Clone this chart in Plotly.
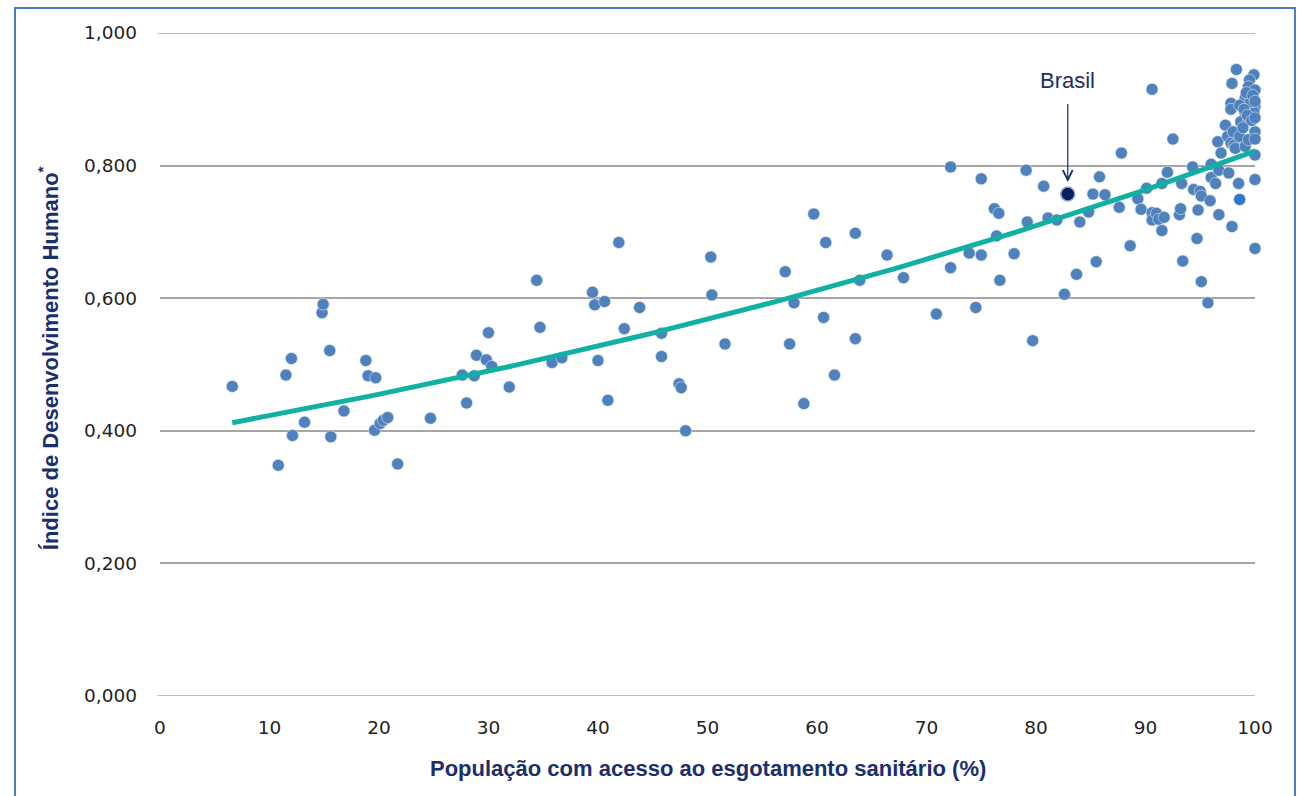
import numpy as np
import plotly.graph_objects as go

# Acesso ao esgotamento sanitário (%) x IDH, por país
sanitation = [
    6.6, 10.8, 11.5, 12.0, 12.1, 13.2, 14.8, 14.9, 15.5, 15.6, 16.8, 18.8, 19.0, 19.6, 19.7, 20.1, 20.4, 20.8, 21.7,
    24.7, 27.6, 28.0, 28.7, 28.9, 29.8, 30.0, 30.3, 31.9, 34.4, 34.7, 35.8, 36.7, 39.5, 39.7, 40.0, 40.6, 40.9, 41.9, 42.4, 43.8,
    45.8, 45.8, 47.4, 47.6, 48.0, 50.3, 50.4, 51.6, 57.1, 57.5, 57.9, 58.8, 59.7, 60.6, 60.8, 61.6, 63.5, 63.5, 63.9,
    66.4, 67.9, 70.9, 72.2, 72.2, 73.9, 74.5, 75.0, 75.0, 76.2, 76.4, 76.6, 76.7, 78.0, 79.1, 79.2, 79.7, 80.7, 81.1, 81.9,
    82.6, 83.7, 84.0, 84.8, 85.2, 85.5, 85.8,
    86.3, 87.6, 87.8, 88.6, 89.3, 89.6, 90.1, 90.6, 90.6, 90.6, 91.0, 91.2, 91.5, 91.5, 91.7, 92.0, 92.5, 93.1, 93.2, 93.3,
    93.4, 94.3, 94.4, 94.7, 94.8, 95.0, 95.1, 95.1, 95.7, 95.9, 96.0, 96.0, 96.4, 96.6, 96.7, 96.7, 96.9, 97.3, 97.5, 97.6,
    97.8, 97.9, 98.0, 98.1, 98.2, 98.5, 98.6, 98.8, 99.1, 99.4, 100.0, 100.0, 100.0, 100.0, 100.0,
    98.3, 97.9, 97.8, 97.8, 99.9, 99.5, 99.4, 100.0, 99.1, 99.9, 98.6, 100.0, 99.1, 99.9, 98.7, 99.4, 99.6, 99.2, 99.8,
    100.0, 99.0, 99.3, 99.7, 100.0, 98.9,
]
hdi = [
    0.467, 0.348, 0.484, 0.509, 0.393, 0.413, 0.578, 0.591, 0.521, 0.391, 0.430, 0.506, 0.483, 0.401, 0.480, 0.411, 0.416, 0.420, 0.350,
    0.419, 0.484, 0.442, 0.483, 0.514, 0.507, 0.548, 0.497, 0.466, 0.627, 0.556, 0.503, 0.510, 0.609, 0.590, 0.506, 0.595, 0.446, 0.684, 0.554, 0.586,
    0.547, 0.512, 0.471, 0.465, 0.400, 0.662, 0.605, 0.531, 0.640, 0.531, 0.593, 0.441, 0.727, 0.571, 0.684, 0.484, 0.698, 0.539, 0.627,
    0.665, 0.631, 0.576, 0.798, 0.646, 0.668, 0.586, 0.780, 0.665, 0.735, 0.694, 0.728, 0.627, 0.667, 0.793, 0.715, 0.536, 0.769, 0.721, 0.718,
    0.606, 0.636, 0.715, 0.730, 0.757, 0.655, 0.783,
    0.756, 0.737, 0.819, 0.679, 0.750, 0.734, 0.766, 0.729, 0.718, 0.915, 0.728, 0.719, 0.773, 0.702, 0.722, 0.790, 0.840, 0.726, 0.735, 0.773,
    0.656, 0.798, 0.764, 0.690, 0.733, 0.761, 0.754, 0.625, 0.593, 0.747, 0.782, 0.802, 0.773, 0.836, 0.793, 0.726, 0.819, 0.861, 0.844, 0.789,
    0.834, 0.708, 0.851, 0.831, 0.826, 0.773, 0.844, 0.864, 0.829, 0.839, 0.851, 0.840, 0.816, 0.779, 0.675,
    0.945, 0.924, 0.894, 0.885, 0.937, 0.929, 0.919, 0.914, 0.902, 0.900, 0.891, 0.889, 0.879, 0.881, 0.866, 0.871, 0.896, 0.910, 0.906,
    0.897, 0.885, 0.876, 0.868, 0.872, 0.857,
]
highlight_x = [98.6]
highlight_y = [0.749]

brasil_x = [82.9]
brasil_y = [0.757]

y_ticks = [0.0, 0.2, 0.4, 0.6, 0.8, 1.0]
y_tick_text = ["0,000", "0,200", "0,400", "0,600", "0,800", "1,000"]
x_ticks = [0, 10, 20, 30, 40, 50, 60, 70, 80, 90, 100]

NAVY = "#1B2E6E"
DOT = "#4F81BD"
GRID = "#A6A6A6"

# Linha de tendência exponencial ajustada a todos os países
all_x = np.array(sanitation + highlight_x + brasil_x)
all_y = np.array(hdi + highlight_y + brasil_y)
b, ln_a = np.polyfit(all_x, np.log(all_y), 1)
trend_x = np.linspace(all_x.min(), 100, 120)
trend_y = np.exp(ln_a) * np.exp(b * trend_x)

fig = go.Figure()

# Linhas de grade nas extremidades do eixo (0 e 1)
for edge in (y_ticks[0], y_ticks[-1]):
    fig.add_shape(type="line", xref="paper", yref="y", x0=-0.002, x1=1, y0=edge, y1=edge,
                  line=dict(color=GRID, width=1.5), layer="below")

fig.add_trace(go.Scatter(
    x=sanitation, y=hdi, mode="markers",
    marker=dict(size=12, color=DOT, line=dict(width=0.6, color="#DCE6F2")),
    cliponaxis=False, hoverinfo="x+y",
))
fig.add_trace(go.Scatter(
    x=highlight_x, y=highlight_y, mode="markers",
    marker=dict(size=12, color="#2E75CC", line=dict(width=0.6, color="#DCE6F2")),
    cliponaxis=False,
))
fig.add_trace(go.Scatter(
    x=trend_x, y=trend_y, mode="lines",
    line=dict(color="#10B0A2", width=5), cliponaxis=False, hoverinfo="skip",
))
fig.add_trace(go.Scatter(
    x=brasil_x, y=brasil_y, mode="markers",
    marker=dict(size=14, color="#0A1F5C", line=dict(width=1.5, color="#8FA8D8")),
    cliponaxis=False, name="Brasil",
))

fig.add_annotation(
    x=brasil_x[0], y=brasil_y[0], ax=0, ay=-114, xref="x", yref="y", axref="pixel", ayref="pixel",
    text="Brasil", showarrow=True, arrowhead=5, arrowsize=1.6, arrowwidth=1.2, arrowcolor=NAVY,
    standoff=12, borderpad=11,
    font=dict(family="Liberation Sans Narrow, Arial Narrow, sans-serif", size=22, color=NAVY),
)

axis_font = dict(family="Liberation Sans Narrow, Arial Narrow, sans-serif", size=22, color=NAVY)
fig.add_annotation(
    x=0.5, y=-0.087, xref="paper", yref="paper", yanchor="top", xanchor="center",
    text="<b>População com acesso ao esgotamento sanitário (%)</b>", showarrow=False, font=axis_font,
)
fig.add_annotation(
    x=-0.102, y=0.51, xref="paper", yref="paper", xanchor="center", yanchor="middle", textangle=-90,
    text="<b>Índice de Desenvolvimento Humano<sup>*</sup></b>", showarrow=False, font=axis_font,
)

# Moldura azul em volta do gráfico
fig.add_shape(
    type="rect", xref="paper", yref="paper", x0=-0.1324, x1=1.0365, y0=-0.2, y1=1.0377,
    line=dict(color="#4A7CC8", width=2), fillcolor="rgba(0,0,0,0)", layer="below",
)

tick_font = dict(family="DejaVu Sans, Arial, sans-serif", size=18.5, color="#1F1F1F")
fig.update_layout(
    width=1301, height=796,
    margin=dict(l=160, r=46, t=33, b=100),
    paper_bgcolor="white", plot_bgcolor="white",
    showlegend=False,
    xaxis=dict(
        range=[0, 100], tickvals=x_ticks, showgrid=False, zeroline=False, showline=False,
        tickfont=tick_font, ticks="", ticklabelstandoff=18,
    ),
    yaxis=dict(
        range=[0, 1], tickvals=y_ticks, ticktext=y_tick_text, showgrid=True,
        gridcolor=GRID, gridwidth=1.5, zeroline=False, showline=False,
        tickfont=tick_font, ticks="", ticklabelstandoff=22,
    ),
)

fig.write_html("out.html")
